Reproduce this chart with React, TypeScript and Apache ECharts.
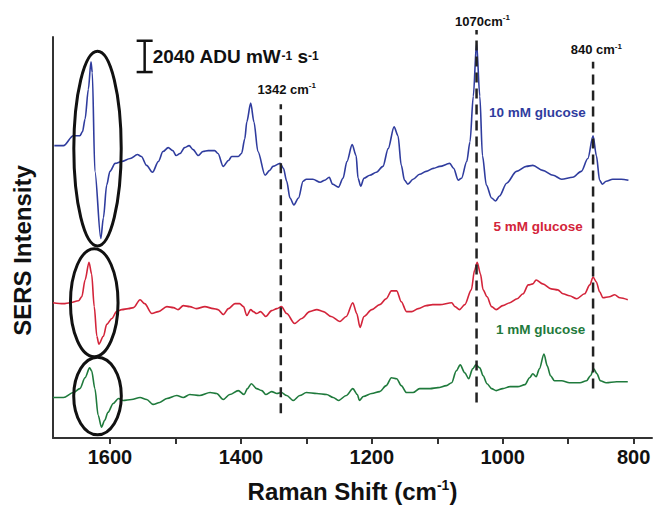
import React, { useEffect, useRef } from 'react';
import * as echarts from 'echarts';

const FONT = '"Liberation Sans", Arial, Helvetica, sans-serif';

// Raman shift (cm^-1), intensity (a.u., offset traces)
const spectrum10mM: [number, number][] = [
  [1685, 296], [1671, 296], [1656, 306], [1646, 306], [1642, 310], [1638, 323], [1633, 353], [1629, 381], [1627, 370], [1623, 270],
  [1614, 202], [1610, 223], [1605, 256], [1600, 270], [1592, 278], [1582, 280], [1569, 283], [1558, 287], [1552, 285], [1544, 276],
  [1535, 269], [1526, 280], [1519, 290], [1511, 294], [1504, 291], [1499, 286], [1493, 288], [1486, 294], [1479, 296], [1473, 292],
  [1465, 286], [1458, 290], [1450, 291], [1440, 291], [1435, 288], [1427, 275], [1419, 281], [1414, 285], [1404, 285], [1399, 288],
  [1394, 303], [1391, 320], [1385, 339], [1380, 320], [1374, 290], [1363, 266], [1356, 271], [1351, 275], [1340, 278], [1335, 273],
  [1330, 260], [1325, 243], [1319, 236], [1312, 243], [1305, 260], [1300, 262], [1290, 262], [1279, 259], [1272, 261], [1265, 264],
  [1260, 257], [1251, 254], [1244, 263], [1238, 280], [1230, 297], [1224, 286], [1221, 263], [1217, 255], [1212, 263], [1203, 266],
  [1193, 269], [1183, 275], [1175, 293], [1166, 315], [1160, 306], [1155, 276], [1150, 261], [1145, 257], [1137, 262], [1127, 267],
  [1117, 270], [1106, 273], [1096, 275], [1081, 278], [1075, 273], [1068, 261], [1063, 263], [1055, 280], [1050, 300], [1045, 346],
  [1040, 400], [1035, 346], [1031, 286], [1025, 256], [1017, 243], [1011, 240], [1005, 245], [994, 258], [979, 270], [964, 275],
  [954, 276], [939, 271], [923, 266], [910, 262], [893, 264], [880, 270], [870, 283], [862, 306], [857, 286], [852, 261],
  [848, 257], [842, 260], [832, 262], [819, 262], [808, 261],
];

const spectrum5mM: [number, number][] = [
  [1687, 137], [1671, 136], [1661, 137], [1648, 139], [1643, 143], [1638, 160], [1632, 178], [1628, 166], [1624, 133], [1620, 103],
  [1617, 95], [1610, 103], [1605, 115], [1597, 121], [1590, 128], [1582, 130], [1572, 131], [1564, 132], [1554, 140], [1547, 136],
  [1536, 126], [1526, 128], [1513, 133], [1503, 132], [1496, 130], [1488, 134], [1478, 133], [1468, 131], [1455, 133], [1442, 131],
  [1435, 130], [1427, 125], [1419, 131], [1409, 136], [1402, 136], [1396, 133], [1391, 124], [1385, 130], [1381, 128], [1376, 126],
  [1370, 128], [1362, 123], [1353, 129], [1345, 131], [1338, 133], [1330, 126], [1318, 116], [1307, 121], [1295, 128], [1284, 130],
  [1274, 128], [1262, 123], [1249, 118], [1239, 123], [1229, 137], [1223, 126], [1218, 112], [1212, 123], [1200, 130], [1188, 135],
  [1178, 141], [1170, 149], [1162, 149], [1155, 138], [1147, 128], [1139, 128], [1129, 131], [1117, 134], [1107, 135], [1096, 135],
  [1078, 137], [1073, 133], [1066, 130], [1058, 135], [1048, 150], [1043, 170], [1039, 178], [1034, 166], [1030, 150], [1024, 143],
  [1017, 133], [1010, 130], [1000, 134], [989, 137], [978, 141], [969, 146], [961, 155], [954, 156], [949, 160], [939, 156],
  [926, 151], [916, 150], [908, 146], [898, 144], [887, 141], [875, 146], [867, 155], [862, 163], [857, 158], [852, 148],
  [847, 142], [837, 143], [829, 145], [821, 142], [809, 140],
];

const spectrum1mM: [number, number][] = [
  [1687, 41], [1671, 41], [1656, 46], [1646, 50], [1638, 61], [1631, 71], [1628, 68], [1623, 50], [1618, 23], [1613, 11],
  [1608, 18], [1603, 26], [1595, 35], [1587, 40], [1580, 38], [1567, 39], [1554, 41], [1544, 39], [1534, 34], [1524, 36],
  [1513, 40], [1498, 43], [1488, 41], [1478, 44], [1463, 43], [1447, 46], [1437, 45], [1427, 39], [1417, 44], [1404, 48],
  [1395, 44], [1390, 50], [1384, 55], [1376, 50], [1368, 48], [1362, 44], [1353, 47], [1345, 45], [1338, 46], [1330, 43],
  [1320, 38], [1310, 43], [1300, 46], [1284, 45], [1269, 44], [1259, 41], [1251, 38], [1239, 43], [1229, 50], [1222, 44],
  [1219, 38], [1213, 42], [1200, 45], [1188, 47], [1178, 53], [1170, 61], [1162, 60], [1155, 53], [1147, 46], [1137, 46],
  [1127, 50], [1111, 50], [1099, 51], [1086, 53], [1078, 56], [1071, 68], [1065, 74], [1058, 66], [1052, 60], [1046, 70],
  [1041, 74], [1035, 71], [1030, 63], [1024, 55], [1017, 50], [1010, 48], [1000, 50], [989, 52], [977, 52], [966, 54],
  [959, 61], [954, 65], [949, 62], [944, 70], [937, 85], [932, 73], [927, 63], [921, 58], [910, 58], [898, 56],
  [882, 56], [872, 58], [866, 63], [861, 70], [856, 65], [851, 58], [842, 56], [826, 57], [809, 57],
];

const seriesNames = ['10 mM glucose', '5 mM glucose', '1 mM glucose'];
const seriesColors = ['#2f3c9e', '#d3243a', '#1f7a3c'];
const seriesLabelPos: [number, number][] = [[947, 330], [946, 214], [942, 110]];

// dashed reference lines (position in cm^-1, bottom / top intensity)
const markerShifts = [1339, 1040, 862];
const markerBottoms = [25, 36, 50];
const markerTops = [338, 413, 381];
const markerTexts = ['1342 cm', '1070cm', '840 cm'];
const markerLabelPos: [number, number][] = [[1330, 353], [1031, 422], [857, 393]];

// ellipses round the 1600 cm^-1 features: center shift, center intensity, rx px, ry px
const ellipseCenters: [number, number][] = [[1619, 293], [1624, 137], [1619, 42.5]];
const ellipseRadii: [number, number][] = [[23.7, 97.3], [23.8, 54], [23.8, 38.8]];

// scale bar (2040 ADU mW-1 s-1)
const scaleBarShift = 1547;
const scaleBarBottom = 370.5;
const scaleBarHeight = 31.7;

const xTicks = [800, 900, 1000, 1100, 1200, 1300, 1400, 1500, 1600];
const xLabels = [800, 1000, 1200, 1400, 1600];

export default function App() {
  const ref = useRef<HTMLDivElement>(null);
  useEffect(() => {
    const chart = echarts.init(ref.current!, undefined, { renderer: 'svg', width: 654, height: 508 });
    const spectra = [spectrum10mM, spectrum5mM, spectrum1mM];
    const option: any = {
      animation: false,
      grid: { left: 53, right: 2, top: 37, bottom: 65 },
      xAxis: {
        type: 'value',
        inverse: true,
        min: 772,
        max: 1687,
        name: '{a|Raman Shift (cm}{s|-1}{a|)}',
        nameLocation: 'middle',
        nameGap: 40,
        nameTextStyle: {
          rich: {
            a: { fontSize: 24, fontWeight: 'bold', fontFamily: FONT, color: '#111', lineHeight: 26 },
            s: { fontSize: 14, fontWeight: 'bold', fontFamily: FONT, color: '#111', verticalAlign: 'top', lineHeight: 16 },
          },
        },
        axisLine: { show: true, lineStyle: { color: '#333', width: 2 } },
        axisTick: { show: true, customValues: xTicks, length: 6, lineStyle: { color: '#333', width: 2 } },
        axisLabel: {
          customValues: xLabels,
          formatter: (v: number) => String(v),
          fontSize: 20,
          fontWeight: 'bold',
          fontFamily: FONT,
          color: '#111',
          margin: 9,
        },
        splitLine: { show: false },
      },
      yAxis: {
        type: 'value',
        min: 0,
        max: 406,
        name: 'SERS Intensity',
        nameLocation: 'middle',
        nameGap: 19,
        nameTextStyle: { fontSize: 24, fontWeight: 'bold', fontFamily: FONT, color: '#111', padding: [0, 26, 0, 0] },
        axisLine: { show: true, lineStyle: { color: '#333', width: 2 } },
        axisTick: { show: false },
        axisLabel: { show: false },
        splitLine: { show: false },
      },
      series: [
        ...spectra.map((d, i) => ({
          type: 'line',
          name: seriesNames[i],
          data: d,
          symbol: 'none',
          smooth: 0.3,
          smoothMonotone: 'x',
          silent: true,
          lineStyle: { color: seriesColors[i], width: 1.6 },
          z: 2,
        })),
        ...markerShifts.map((s, i) => ({
          type: 'line',
          data: [[s, markerBottoms[i]], [s, markerTops[i]]],
          symbol: 'none',
          clip: false,
          silent: true,
          lineStyle: { color: '#222', width: 2.5, type: [10, 6] },
          z: 3,
        })),
      ],
    };
    chart.setOption(option);

    const px = (v: number, h: number) => chart.convertToPixel({ gridIndex: 0 }, [v, h]) as number[];
    const graphic: any[] = [];

    ellipseCenters.forEach((c, i) => {
      const p = px(c[0], c[1]);
      graphic.push({
        type: 'ellipse',
        shape: { cx: p[0], cy: p[1], rx: ellipseRadii[i][0], ry: ellipseRadii[i][1] },
        style: { fill: 'none', stroke: '#111', lineWidth: 3 },
        z: 10,
      });
    });

    const sb0 = px(scaleBarShift, scaleBarBottom);
    const sb1 = px(scaleBarShift, scaleBarBottom + scaleBarHeight);
    const barStyle = { stroke: '#111', lineWidth: 2.5 };
    graphic.push(
      { type: 'line', shape: { x1: sb0[0], y1: sb0[1], x2: sb1[0], y2: sb1[1] }, style: barStyle, z: 10 },
      { type: 'line', shape: { x1: sb0[0] - 8, y1: sb0[1], x2: sb0[0] + 8, y2: sb0[1] }, style: barStyle, z: 10 },
      { type: 'line', shape: { x1: sb1[0] - 8, y1: sb1[1], x2: sb1[0] + 8, y2: sb1[1] }, style: barStyle, z: 10 },
      {
        type: 'text',
        x: sb0[0] + 8,
        y: (sb0[1] + sb1[1]) / 2,
        style: {
          text: '{a|2040 ADU mW}{s|-1}{a| s}{s|-1}',
          align: 'left',
          verticalAlign: 'middle',
          rich: {
            a: { fontSize: 19, fontWeight: 'bold', fontFamily: FONT, fill: '#111', lineHeight: 22 },
            s: { fontSize: 12, fontWeight: 'bold', fontFamily: FONT, fill: '#111', lineHeight: 22 },
          },
        },
        z: 10,
      }
    );

    markerTexts.forEach((t, i) => {
      const p = px(markerLabelPos[i][0], markerLabelPos[i][1]);
      graphic.push({
        type: 'text',
        x: p[0],
        y: p[1],
        style: {
          text: `{a|${t}}{s|-1}`,
          align: 'center',
          verticalAlign: 'middle',
          rich: {
            a: { fontSize: 13, fontWeight: 'bold', fontFamily: FONT, fill: '#111', lineHeight: 15 },
            s: { fontSize: 8, fontWeight: 'bold', fontFamily: FONT, fill: '#111', verticalAlign: 'top', lineHeight: 9 },
          },
        },
        z: 10,
      });
    });

    seriesNames.forEach((n, i) => {
      const p = px(seriesLabelPos[i][0], seriesLabelPos[i][1]);
      graphic.push({
        type: 'text',
        x: p[0],
        y: p[1],
        style: {
          text: n,
          align: 'center',
          verticalAlign: 'middle',
          fontSize: 13.5,
          fontWeight: 'bold',
          fontFamily: FONT,
          fill: seriesColors[i],
        },
        z: 10,
      });
    });

    chart.setOption({ graphic });
    return () => chart.dispose();
  }, []);
  return <div ref={ref} style={{ position: 'absolute', left: 0, top: 0, width: 654, height: 508 }} />;
}
